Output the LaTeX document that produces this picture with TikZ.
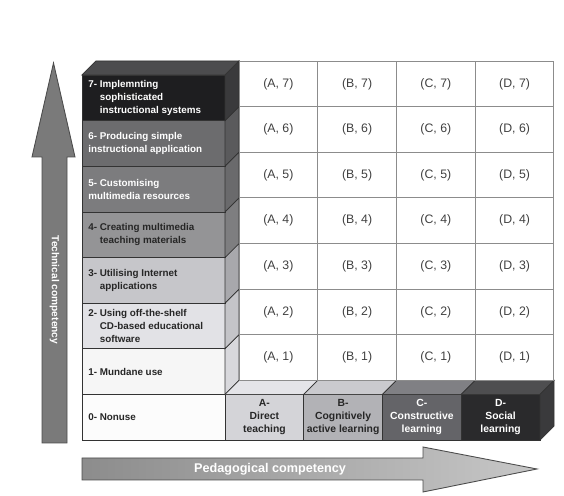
\documentclass[tikz,border=0pt]{standalone}
\usepackage{fontspec}
\setmainfont{Liberation Sans}
\usepackage{tikz}

% level shades (front / side)
\definecolor{fseven}{HTML}{1E1E20}\definecolor{sseven}{HTML}{3A3A3C}\definecolor{tseven}{HTML}{4C4C4E}
\definecolor{fsix}{HTML}{6C6C6E}\definecolor{ssix}{HTML}{5A5A5C}
\definecolor{ffive}{HTML}{7C7C7E}\definecolor{sfive}{HTML}{6A6A6C}
\definecolor{ffour}{HTML}{949496}\definecolor{sfour}{HTML}{7E7E80}
\definecolor{fthree}{HTML}{C6C6CA}\definecolor{sthree}{HTML}{A8A8AC}
\definecolor{ftwo}{HTML}{E2E2E6}\definecolor{stwo}{HTML}{C4C4C8}
\definecolor{fone}{HTML}{F6F6F6}\definecolor{sone}{HTML}{D8D8DC}
\definecolor{fzero}{HTML}{FCFCFC}
% pedagogy shades (front / top)
\definecolor{fA}{HTML}{D4D4D8}\definecolor{tA}{HTML}{E4E4E8}
\definecolor{fB}{HTML}{B2B2B6}\definecolor{tB}{HTML}{CACACE}
\definecolor{fC}{HTML}{646468}\definecolor{tC}{HTML}{808084}
\definecolor{fD}{HTML}{2A2A2C}\definecolor{tD}{HTML}{4E4E50}\definecolor{sD}{HTML}{3A3A3C}

\begin{document}
\begin{tikzpicture}[x=0.02cm, y=0.02cm,
  block/.style={draw=black!80, line width=0.4pt},
  lvtext/.style={anchor=west, align=left, inner sep=0pt, font=\fontsize{5.6}{7.4}\selectfont\bfseries},
  pdtext/.style={align=center, inner sep=0pt, font=\fontsize{5.9}{7.4}\selectfont\bfseries},
  celltext/.style={text=black!75, font=\fontsize{7}{8}\selectfont},
  bigarrow/.style={draw=black!70, line width=0.5pt}]

\useasboundingbox (0,0) rectangle (564,496);

% -------- Left column: levels 0 to 7 -----------
\filldraw[block, fill=fzero]  (82,56)    rectangle (225,101.6);

\filldraw[block, fill=fone]   (82,101.6) rectangle (225,147.3);
\filldraw[block, fill=sone]   (225,101.6) -- (239,115.6) -- (239,161.3) -- (225,147.3) -- cycle;

\filldraw[block, fill=ftwo]   (82,147.3) rectangle (225,192.9);
\filldraw[block, fill=stwo]   (225,147.3) -- (239,161.3) -- (239,206.9) -- (225,192.9) -- cycle;

\filldraw[block, fill=fthree] (82,192.9) rectangle (225,238.5);
\filldraw[block, fill=sthree] (225,192.9) -- (239,206.9) -- (239,252.5) -- (225,238.5) -- cycle;

\filldraw[block, fill=ffour]  (82,238.5) rectangle (225,284.1);
\filldraw[block, fill=sfour]  (225,238.5) -- (239,252.5) -- (239,298.1) -- (225,284.1) -- cycle;

\filldraw[block, fill=ffive]  (82,284.1) rectangle (225,329.8);
\filldraw[block, fill=sfive]  (225,284.1) -- (239,298.1) -- (239,343.8) -- (225,329.8) -- cycle;

\filldraw[block, fill=fsix]   (82,329.8) rectangle (225,375.4);
\filldraw[block, fill=ssix]   (225,329.8) -- (239,343.8) -- (239,389.4) -- (225,375.4) -- cycle;

\filldraw[block, fill=fseven] (82,375.4) rectangle (225,421);
\filldraw[block, fill=sseven] (225,375.4) -- (239,389.4) -- (239,435) -- (225,421) -- cycle;
\filldraw[block, fill=tseven] (82,421) -- (96,435) -- (239,435) -- (225,421) -- cycle;

\node[lvtext, text=black!85] (lv0) at (88,78.8)  {0- Nonuse};
\node[lvtext, text=black!85] (lv1) at (88,124.4) {1- Mundane use};
\node[lvtext, text=black!85] (lv2) at (88,170.1) {2- Using off-the-shelf\\\phantom{2- }CD-based educational\\\phantom{2- }software};
\node[lvtext, text=black!85] (lv3) at (88,215.7) {3- Utilising Internet\\\phantom{3- }applications};
\node[lvtext, text=black!85] (lv4) at (88,261.3) {4- Creating multimedia\\\phantom{4- }teaching materials};
\node[lvtext, text=white]    (lv5) at (88,306.9) {5- Customising\\multimedia resources};
\node[lvtext, text=white]    (lv6) at (88,352.6) {6- Producing simple\\instructional application};
\node[lvtext, text=white]    (lv7) at (88,398.2) {7- Implemnting\\\phantom{7- }sophisticated\\\phantom{7- }instructional systems};

% -------- Bottom row: A to D -----------
\filldraw[block, fill=fA] (225,56)    rectangle (303.75,101.6);
\filldraw[block, fill=tA] (225,101.6) -- (239,115.6) -- (317.75,115.6) -- (303.75,101.6) -- cycle;
\filldraw[block, fill=fB] (303.75,56) rectangle (382.5,101.6);
\filldraw[block, fill=tB] (303.75,101.6) -- (317.75,115.6) -- (396.5,115.6) -- (382.5,101.6) -- cycle;
\filldraw[block, fill=fC] (382.5,56)  rectangle (461.25,101.6);
\filldraw[block, fill=tC] (382.5,101.6) -- (396.5,115.6) -- (475.25,115.6) -- (461.25,101.6) -- cycle;
\filldraw[block, fill=fD] (461.25,56) rectangle (540,101.6);
\filldraw[block, fill=tD] (461.25,101.6) -- (475.25,115.6) -- (554,115.6) -- (540,101.6) -- cycle;
\filldraw[block, fill=sD] (540,56) -- (554,70) -- (554,115.6) -- (540,101.6) -- cycle;

\node[pdtext, text=black!85] (pA) at (264.4,78.8) {A-\\Direct\\teaching};
\node[pdtext, text=black!85] (pB) at (343.1,78.8) {B-\\Cognitively\\active learning};
\node[pdtext, text=white]    (pC) at (421.9,78.8) {C-\\Constructive\\learning};
\node[pdtext, text=white]    (pD) at (500.6,78.8) {D-\\Social\\learning};

% -------- Cells -----------
\begin{scope}[shift={(239,115.6)}, x=1.575cm, y=0.9125cm]
\draw[black!45, line width=0.5pt] (0,0) grid[xstep=1, ystep=1] (4,7);

\node[celltext] (a1) at (0.5,0.5) {(A, 1)};
\node[celltext] (b1) at (1.5,0.5) {(B, 1)};
\node[celltext] (c1) at (2.5,0.5) {(C, 1)};
\node[celltext] (d1) at (3.5,0.5) {(D, 1)};
\node[celltext] (a2) at (0.5,1.5) {(A, 2)};
\node[celltext] (b2) at (1.5,1.5) {(B, 2)};
\node[celltext] (c2) at (2.5,1.5) {(C, 2)};
\node[celltext] (d2) at (3.5,1.5) {(D, 2)};
\node[celltext] (a3) at (0.5,2.5) {(A, 3)};
\node[celltext] (b3) at (1.5,2.5) {(B, 3)};
\node[celltext] (c3) at (2.5,2.5) {(C, 3)};
\node[celltext] (d3) at (3.5,2.5) {(D, 3)};
\node[celltext] (a4) at (0.5,3.5) {(A, 4)};
\node[celltext] (b4) at (1.5,3.5) {(B, 4)};
\node[celltext] (c4) at (2.5,3.5) {(C, 4)};
\node[celltext] (d4) at (3.5,3.5) {(D, 4)};
\node[celltext] (a5) at (0.5,4.5) {(A, 5)};
\node[celltext] (b5) at (1.5,4.5) {(B, 5)};
\node[celltext] (c5) at (2.5,4.5) {(C, 5)};
\node[celltext] (d5) at (3.5,4.5) {(D, 5)};
\node[celltext] (a6) at (0.5,5.5) {(A, 6)};
\node[celltext] (b6) at (1.5,5.5) {(B, 6)};
\node[celltext] (c6) at (2.5,5.5) {(C, 6)};
\node[celltext] (d6) at (3.5,5.5) {(D, 6)};
\node[celltext] (a7) at (0.5,6.5) {(A, 7)};
\node[celltext] (b7) at (1.5,6.5) {(B, 7)};
\node[celltext] (c7) at (2.5,6.5) {(C, 7)};
\node[celltext] (d7) at (3.5,6.5) {(D, 7)};
\end{scope}

% -------- Axis arrows -----------
\filldraw[bigarrow, fill=black!52] (42,53) -- (42,339) -- (32,339) -- (53.5,433) -- (75,339) -- (67,339) -- (67,53) -- cycle;
\node[text=white, rotate=-90, font=\fontsize{5.8}{7}\selectfont\bfseries] (tech) at (54.5,206) {Technical competency};

\shadedraw[bigarrow, left color=black!45, right color=black!22] (82,16) -- (82,38) -- (423,38) -- (423,49) -- (537,27) -- (423,4) -- (423,16) -- cycle;
\node[text=white, font=\fontsize{7.2}{8}\selectfont\bfseries] (peda) at (270,27) {Pedagogical competency};

\end{tikzpicture}
\end{document}
